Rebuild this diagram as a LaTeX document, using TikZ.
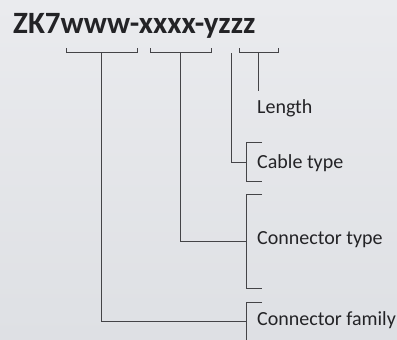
\documentclass[tikz,border=0pt]{standalone}
\usepackage{fontspec}
\setmainfont{Carlito}
\usepackage{xcolor}
\usetikzlibrary{positioning, calc}
\definecolor{bgtop}{RGB}{234,235,238}
\definecolor{bgbot}{RGB}{222,224,228}
\definecolor{ink}{RGB}{35,35,38}
\tikzset{
  code/.style={anchor=base west, inner sep=0pt, text=ink,
               font=\fontsize{31}{31}\selectfont\bfseries},
  lbl/.style={anchor=base west, inner sep=0pt, text=ink,
              font=\fontsize{20}{20}\selectfont},
  brk/.style={draw=ink!85, line width=1pt},
}

\begin{document}
\begin{tikzpicture}[x=1pt, y=-1pt]
  % Background
  \shade[top color=bgtop, bottom color=bgbot] (0,0) rectangle (397,340);
  \useasboundingbox (0,0) rectangle (397,340);

  % Order code
  \node[code] (title) at (13,34) {ZK7www-xxxx-yzzz};

  % Meanings
  \node[lbl] (len) at (257,113) {Length};
  \node[lbl] (cab) at (257,168) {Cable type};
  \node[lbl] (con) at (257,244) {Connector type};
  \node[lbl] (fam) at (257,325) {Connector family};

  % Brackets under the code
  \coordinate (w1) at (66,52);  \coordinate (w2) at (137,52);
  \coordinate (x1) at (150,52); \coordinate (x2) at (211,52);
  \coordinate (z1) at (239,52); \coordinate (z2) at (278,52);
  \draw[brk] ($(w1)+(0,-4)$) -- (w1) -- (w2) -- ++(0,-4);
  \draw[brk] ($(x1)+(0,-4)$) -- (x1) -- (x2) -- ++(0,-4);
  \draw[brk] ($(z1)+(0,-4)$) -- (z1) -- (z2) -- ++(0,-4);

  % Brackets beside the meanings
  \coordinate (cabt) at (246,142); \coordinate (cabb) at (246,181);
  \coordinate (cont) at (246,194); \coordinate (conb) at (246,288);
  \coordinate (famt) at (246,302); \coordinate (famb) at (246,340);
  \draw[brk] ($(cabt)+(16,0)$) -- (cabt) -- (cabb) -- ++(16,0);
  \draw[brk] ($(cont)+(16,0)$) -- (cont) -- (conb) -- ++(16,0);
  \draw[brk] ($(famt)+(16,0)$) -- (famt) -- (famb);

  % Leaders
  \coordinate (wm) at (101,52); \coordinate (xm) at (180,52);
  \coordinate (ym) at (231,53); \coordinate (zm) at (258,52);
  \coordinate (lenp) at (258,91);
  \coordinate (cabp) at (246,162);
  \coordinate (conp) at (246,241);
  \coordinate (famp) at (246,321);
  \draw[brk] (zm) -- (lenp);
  \draw[brk] (ym) |- (cabp);
  \draw[brk] (xm) |- (conp);
  \draw[brk] (wm) |- (famp);
\end{tikzpicture}
\end{document}
